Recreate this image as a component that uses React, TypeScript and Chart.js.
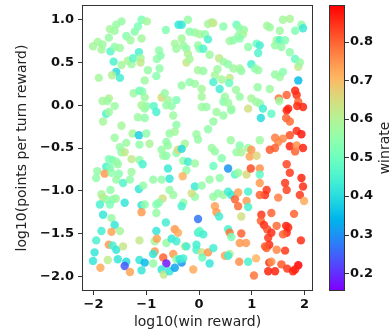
import React, { useEffect, useRef } from "react";
import { Chart, registerables } from "chart.js";

Chart.register(...registerables);

const xValues = [
  -1.47,-1.09,-0.99,-1.57,-1.69,-1.60,-1.16,-1.22,-0.63,-0.39,
  -1.71,-1.38,-1.30,-1.09,-2.01,-1.92,-1.83,-1.85,-1.68,-1.60,
  -1.50,-1.14,-1.62,-1.47,-1.35,-1.28,-1.25,-1.11,-1.11,-0.76,
  -0.73,-0.80,-0.46,-0.43,-1.57,-1.50,-1.65,-1.90,-0.97,-1.03,
  -0.75,-0.81,-1.24,-1.13,-1.08,-1.83,-1.71,-1.74,-1.03,-0.71,
  -0.65,-0.59,-0.52,-0.43,-1.00,-0.86,
  -0.33,-0.21,0.17,0.24,0.27,0.46,0.71,0.76,0.85,1.29,
  1.34,1.59,1.72,1.94,1.97,1.53,1.82,-0.18,-0.08,0.01,
  0.11,0.17,-0.33,-0.30,-0.24,-0.21,-0.02,0.01,0.08,0.58,
  0.65,0.74,0.83,0.77,1.09,1.15,1.12,0.93,1.47,1.53,
  1.63,1.44,1.56,1.72,1.82,1.88,1.91,-0.24,-0.18,0.20,
  0.38,0.46,0.55,0.65,0.77,0.80,-0.02,0.08,0.35,0.30,
  0.27,0.43,0.58,0.57,0.99,1.06,1.12,1.44,1.53,1.59,
  1.88,-0.18,-0.08,-0.33,0.05,0.39,0.70,1.11,1.34,1.82,
  1.66,1.51,1.85,1.88,1.97,1.69,0.05,0.49,0.77,0.99,
  1.15,0.46,0.61,0.93,1.21,0.05,0.14,
  -1.60,-1.76,-1.71,-1.82,-1.47,-1.16,-1.03,-1.03,-1.09,-0.81,
  -0.62,-0.49,-0.43,-0.56,-0.46,-1.60,-1.26,-1.14,-1.00,-1.13,
  -0.94,-1.50,-1.38,-1.47,-1.41,-1.71,-1.64,-1.57,-1.76,-1.69,
  -1.54,-1.28,-1.13,-1.07,-1.93,-1.79,-1.95,-1.66,-1.52,-1.28,
  -1.57,-1.44,-1.31,-0.87,-0.71,-0.59,-0.56,-0.71,-0.62,-0.59,
  -0.68,-0.62,-0.43,-0.40,-1.14,-1.06,-1.68,-1.85,-1.82,-1.76,
  -1.63,-1.58,-1.41,-1.88,-1.69,-1.09,-0.81,-0.69,-0.56,-0.49,
  0.33,0.46,0.61,0.55,1.37,1.17,1.08,1.52,1.66,1.86,
  1.65,1.72,1.85,1.94,1.72,1.59,1.44,1.50,1.44,1.34,
  1.72,1.82,1.85,1.97,0.27,0.17,-0.05,-0.02,-0.27,-0.33,
  0.60,1.15,0.77,0.71,0.80,0.93,0.96,1.09,0.99,0.24,
  0.30,0.43,-0.30,-0.21,-0.08,-0.24,0.27,0.55,0.68,0.74,
  0.90,0.98,1.15,1.15,1.66,1.72,1.94,-0.31,0.20,0.39,
  1.15,1.28,1.25,1.15,1.50,1.63,1.66,1.97,1.91,1.99,
  -0.08,0.05,-0.08,-0.14,0.27,0.36,0.46,0.55,0.61,0.74,
  0.93,0.68,0.90,0.74,0.93,0.30,-0.30,
  -1.82,-1.66,-1.60,-1.85,-1.66,-1.50,
  -1.09,-1.03,-0.81,-0.76,-0.63,-0.46,-0.40,-0.81,
  -1.95,-1.71,-1.64,-1.57,-1.44,-1.13,-0.84,-0.80,-0.62,-0.52,
  -0.43,-1.98,-0.84,-0.87,-0.68,-0.49,-0.43,-2.01,-1.73,-1.54,
  -1.38,-1.13,-1.03,-0.62,-1.41,-1.87,-1.31,-1.09,-0.87,-0.71,
  -0.67,-0.56,-0.46,-0.33,-0.37,-0.30,-0.27,-0.24,-0.02,-0.02,
  0.01,0.08,-0.05,-0.05,0.05,0.06,0.17,0.27,0.20,-0.11,
  0.33,0.38,-0.33,
  0.80,0.55,0.58,0.61,0.80,0.77,0.89,0.49,0.58,0.55,
  0.76,0.93,1.08,1.18,1.17,1.23,1.37,1.29,1.37,1.31,
  1.28,1.33,1.25,1.47,1.65,1.69,1.66,1.59,1.80,1.47,
  1.63,1.93,1.33,1.37,1.31,1.44,1.56,1.67,1.78,1.88,
  1.82,1.04,
];

const yValues = [
  0.98,1.00,0.98,0.94,0.89,0.87,0.92,0.86,0.88,0.94,
  0.79,0.81,0.76,0.78,0.69,0.74,0.71,0.65,0.63,0.68,
  0.67,0.62,0.51,0.47,0.52,0.48,0.55,0.55,0.50,0.64,
  0.58,0.54,0.72,0.66,0.39,0.32,0.35,0.32,0.41,0.29,
  0.43,0.34,0.14,0.17,0.16,0.05,0.08,0.05,0.09,0.09,
  0.14,0.06,-0.01,0.06,-0.01,-0.01,
  0.94,1.00,0.95,0.97,0.96,0.92,0.94,0.90,0.88,0.93,
  0.91,1.00,1.01,0.94,0.90,0.87,0.87,0.86,0.85,0.83,
  0.83,0.77,0.78,0.70,0.66,0.60,0.70,0.66,0.66,0.75,
  0.76,0.81,0.83,0.78,0.72,0.70,0.61,0.68,0.76,0.76,
  0.76,0.70,0.68,0.62,0.54,0.45,0.50,0.50,0.54,0.59,
  0.55,0.51,0.48,0.43,0.43,0.40,0.41,0.40,0.42,0.35,
  0.27,0.30,0.32,0.26,0.48,0.43,0.41,0.36,0.33,0.39,
  0.29,0.27,0.25,0.23,0.19,0.19,0.18,0.21,0.19,0.17,
  0.12,0.08,0.12,0.04,-0.02,-0.04,0.10,0.10,0.10,0.08,
  0.02,0.04,-0.04,-0.04,-0.04,-0.02,-0.02,
  -0.01,-0.10,-0.08,-0.19,-0.24,-0.14,-0.15,-0.04,0.00,-0.08,
  0.00,-0.12,-0.23,-0.33,-0.31,-0.38,-0.33,-0.35,-0.33,-0.46,
  -0.45,-0.49,-0.44,-0.55,-0.55,-0.63,-0.64,-0.66,-0.72,-0.73,
  -0.69,-0.63,-0.64,-0.69,-0.77,-0.80,-0.85,-0.79,-0.80,-0.78,
  -0.87,-0.91,-0.87,-0.87,-0.87,-0.74,-0.86,-0.52,-0.43,-0.47,
  -0.59,-0.59,-0.56,-0.52,-0.98,-0.94,-0.99,-1.04,-1.08,-1.10,
  -1.10,-1.09,-1.14,-1.16,-1.16,-1.17,-1.16,-1.09,-0.99,-1.05,
  -0.08,-0.12,-0.06,0.03,-0.10,-0.15,0.04,0.05,-0.06,-0.01,
  -0.15,-0.19,-0.30,-0.34,-0.35,-0.39,-0.38,-0.43,-0.50,-0.52,
  -0.48,-0.54,-0.47,-0.50,-0.19,-0.28,-0.34,-0.40,-0.45,-0.51,
  -0.41,-0.41,-0.47,-0.55,-0.55,-0.50,-0.60,-0.59,-0.52,-0.50,
  -0.54,-0.62,-0.65,-0.66,-0.68,-0.76,-0.71,-0.74,-0.81,-0.79,
  -0.81,-0.74,-0.74,-0.81,-0.69,-0.79,-0.85,-0.83,-0.87,-0.85,
  -0.91,-0.99,-1.05,-1.05,-1.08,-0.91,-0.99,-0.95,-1.05,-1.12,
  -0.95,-0.94,-1.07,-1.03,-1.07,-1.03,-1.05,-1.01,-1.05,-1.02,
  -1.01,-1.10,-1.12,-1.18,-1.19,-1.18,-1.14,
  -1.28,-1.32,-1.40,-1.47,-1.48,-1.47,
  -1.25,-1.16,-1.26,-1.14,-1.37,-1.45,-1.49,-1.47,
  -1.58,-1.63,-1.64,-1.69,-1.65,-1.58,-1.59,-1.56,-1.61,-1.56,
  -1.59,-1.72,-1.71,-1.74,-1.78,-1.74,-1.80,-1.82,-1.81,-1.80,
  -1.83,-1.81,-1.84,-1.85,-1.88,-1.90,-1.95,-1.93,-1.85,-1.92,
  -1.98,-1.94,-1.90,-1.84,-1.80,-1.79,-1.65,-1.65,-1.33,-1.49,
  -1.47,-1.51,-1.63,-1.69,-1.72,-1.78,-1.72,-1.67,-1.85,-1.92,
  -1.25,-1.30,-1.18,
  -1.30,-1.45,-1.49,-1.54,-1.50,-1.61,-1.61,-1.76,-1.74,-1.76,
  -1.83,-1.83,-1.79,-1.28,-1.35,-1.40,-1.26,-1.45,-1.49,-1.55,
  -1.67,-1.63,-1.65,-1.41,-1.41,-1.43,-1.49,-1.51,-1.27,-1.69,
  -1.70,-1.58,-1.84,-1.83,-1.94,-1.94,-1.86,-1.91,-1.94,-1.87,
  -1.92,-1.99,
];

const winrates = [
  0.56,0.52,0.58,0.56,0.58,0.57,0.52,0.54,0.53,0.42,
  0.56,0.54,0.57,0.58,0.58,0.58,0.57,0.58,0.47,0.55,
  0.57,0.45,0.45,0.58,0.59,0.57,0.47,0.58,0.62,0.55,
  0.54,0.55,0.58,0.57,0.40,0.44,0.60,0.58,0.56,0.57,
  0.55,0.54,0.57,0.50,0.53,0.58,0.60,0.57,0.57,0.65,
  0.56,0.58,0.55,0.52,0.54,0.47,
  0.42,0.56,0.58,0.60,0.62,0.54,0.50,0.55,0.56,0.58,
  0.57,0.58,0.59,0.55,0.43,0.57,0.53,0.54,0.56,0.58,
  0.55,0.45,0.58,0.57,0.55,0.60,0.56,0.53,0.46,0.57,
  0.55,0.56,0.58,0.54,0.50,0.44,0.46,0.55,0.57,0.46,
  0.53,0.56,0.55,0.55,0.49,0.62,0.56,0.63,0.58,0.57,
  0.62,0.57,0.55,0.57,0.58,0.56,0.58,0.56,0.57,0.58,
  0.45,0.58,0.62,0.49,0.45,0.54,0.56,0.56,0.57,0.54,
  0.35,0.55,0.57,0.56,0.58,0.44,0.57,0.56,0.57,0.86,
  0.80,0.78,0.85,0.80,0.86,0.86,0.58,0.57,0.56,0.58,
  0.55,0.54,0.58,0.64,0.44,0.57,0.56,
  0.57,0.45,0.57,0.58,0.58,0.57,0.55,0.56,0.58,0.45,
  0.56,0.57,0.55,0.56,0.58,0.57,0.58,0.38,0.55,0.55,
  0.59,0.56,0.57,0.55,0.62,0.53,0.52,0.55,0.45,0.52,
  0.56,0.62,0.55,0.45,0.55,0.74,0.55,0.55,0.54,0.57,
  0.56,0.46,0.55,0.56,0.55,0.43,0.42,0.56,0.55,0.56,
  0.57,0.55,0.55,0.65,0.42,0.55,0.55,0.58,0.62,0.56,
  0.55,0.56,0.42,0.45,0.52,0.42,0.53,0.64,0.56,0.57,
  0.57,0.56,0.55,0.57,0.48,0.40,0.57,0.57,0.86,0.85,
  0.80,0.79,0.85,0.87,0.82,0.76,0.77,0.76,0.80,0.81,
  0.86,0.80,0.75,0.86,0.56,0.55,0.57,0.56,0.58,0.40,
  0.57,0.57,0.54,0.56,0.59,0.57,0.73,0.66,0.74,0.57,
  0.56,0.54,0.55,0.44,0.57,0.55,0.50,0.30,0.47,0.56,
  0.65,0.82,0.75,0.48,0.83,0.84,0.86,0.71,0.56,0.55,
  0.74,0.84,0.85,0.80,0.77,0.84,0.83,0.85,0.84,0.72,
  0.43,0.55,0.55,0.64,0.56,0.55,0.57,0.44,0.42,0.73,
  0.45,0.80,0.74,0.79,0.45,0.73,0.55,
  0.42,0.56,0.42,0.44,0.73,0.58,
  0.74,0.55,0.56,0.54,0.44,0.74,0.72,0.42,
  0.45,0.74,0.45,0.42,0.63,0.62,0.58,0.73,0.56,0.42,
  0.44,0.42,0.74,0.42,0.80,0.74,0.55,0.42,0.61,0.42,
  0.40,0.42,0.35,0.18,0.24,0.72,0.73,0.42,0.56,0.42,
  0.62,0.42,0.32,0.30,0.42,0.44,0.62,0.44,0.27,0.44,
  0.48,0.44,0.44,0.45,0.64,0.50,0.74,0.44,0.42,0.72,
  0.74,0.44,0.45,
  0.64,0.45,0.78,0.52,0.80,0.74,0.74,0.73,0.60,0.44,
  0.75,0.45,0.71,0.84,0.80,0.85,0.80,0.82,0.85,0.84,
  0.80,0.85,0.81,0.79,0.86,0.85,0.86,0.80,0.80,0.76,
  0.84,0.85,0.85,0.75,0.86,0.86,0.81,0.84,0.86,0.89,
  0.86,0.78,
];

const xTicks = [-2, -1, 0, 1, 2];
const yTicks = [-2, -1.5, -1, -0.5, 0, 0.5, 1];
const cbTicks = [0.2, 0.3, 0.4, 0.5, 0.6, 0.7, 0.8];
const cbMin = 0.157;
const cbMax = 0.892;
const xLabel = "log10(win reward)";
const yLabel = "log10(points per turn reward)";
const cbLabel = "winrate";

const FONT = "'DejaVu Sans', sans-serif";

function rainbow(v: number, alpha = 1): string {
  const t = Math.min(1, Math.max(0, (v - cbMin) / (cbMax - cbMin)));
  const r = Math.min(1, Math.abs(2 * t - 0.5));
  const g = Math.sin(Math.PI * t);
  const b = Math.cos((Math.PI * t) / 2);
  return `rgba(${Math.round(r * 255)},${Math.round(g * 255)},${Math.round(b * 255)},${alpha})`;
}

function fmt(v: number, dec: number): string {
  const s = Math.abs(v).toFixed(dec);
  return v < -1e-9 ? "\u2212" + s : s;
}

const decorPlugin = {
  id: "decor",
  afterDraw(chart: any) {
    const { ctx, chartArea: ca } = chart;
    const cb = chart.scales.cb;
    ctx.save();
    // frame
    ctx.strokeStyle = "#333";
    ctx.lineWidth = 1;
    const l = Math.round(ca.left) - 0.5;
    const t = Math.round(ca.top) - 0.5;
    const r = Math.round(ca.right) + 0.5;
    const b = Math.round(ca.bottom) + 0.5;
    ctx.strokeRect(l, t, r - l, b - t);

    // colorbar
    const x0 = Math.round(ca.right) + 18;
    const w = 14;
    const top = Math.round(ca.top);
    const bottom = Math.round(ca.bottom);
    for (let py = top; py < bottom; py++) {
      const v = cb.getValueForPixel(py + 0.5);
      ctx.fillStyle = rainbow(v);
      ctx.fillRect(x0, py, w, 1);
    }
    ctx.strokeStyle = "#333";
    ctx.strokeRect(x0 - 0.5, top - 0.5, w + 1, bottom - top + 1);
    ctx.beginPath();
    for (const v of cbTicks) {
      const y = Math.round(cb.getPixelForValue(v)) + 0.5;
      ctx.moveTo(x0 + w, y);
      ctx.lineTo(x0 + w + 5, y);
    }
    ctx.stroke();

    // colorbar label
    ctx.translate(389, (ca.top + ca.bottom) / 2);
    ctx.rotate(-Math.PI / 2);
    ctx.fillStyle = "#222";
    ctx.font = `14px ${FONT}`;
    ctx.textAlign = "center";
    ctx.textBaseline = "alphabetic";
    ctx.fillText(cbLabel, 0, 0);
    ctx.restore();
  },
};

const noVPad = (s: any) => {
  s.paddingTop = 0;
  s.paddingBottom = 0;
};

export default function App() {
  const canvasRef = useRef<HTMLCanvasElement | null>(null);

  useEffect(() => {
    const canvas = canvasRef.current;
    if (!canvas) return;
    const n = Math.min(xValues.length, yValues.length, winrates.length);
    const points = [] as { x: number; y: number }[];
    const colors = [] as string[];
    for (let i = 0; i < n; i++) {
      points.push({ x: xValues[i], y: yValues[i] });
      colors.push(rainbow(winrates[i], 0.85));
    }

    const chart = new Chart(canvas, {
      type: "scatter",
      data: {
        datasets: [
          {
            data: points,
            backgroundColor: colors,
            borderWidth: 0,
            pointRadius: 4.2,
            pointHoverRadius: 4.2,
          },
        ],
      },
      plugins: [decorPlugin],
      options: {
        animation: false,
        responsive: false,
        maintainAspectRatio: false,
        devicePixelRatio: 1,
        events: [],
        layout: { padding: { top: 6, right: 0, bottom: 0, left: 0 } },
        plugins: {
          legend: { display: false },
          tooltip: { enabled: false },
        },
        scales: {
          x: {
            type: "linear",
            position: "bottom",
            min: -2.2,
            max: 2.14,
            afterBuildTicks: (s: any) => {
              s.ticks = xTicks.map((value) => ({ value }));
            },
            afterFit: (s: any) => {
              s.height = 45;
              s.paddingLeft = 0;
              s.paddingRight = 0;
            },
            grid: {
              display: true,
              drawOnChartArea: false,
              drawTicks: true,
              tickLength: 5,
              color: "#333",
            },
            border: { display: false },
            ticks: {
              autoSkip: false,
              maxRotation: 0,
              padding: 2,
              color: "#111",
              font: { family: FONT, size: 13, weight: "bold" },
              callback: (v: any) => fmt(Number(v), 0),
            },
            title: {
              display: true,
              text: xLabel,
              color: "#222",
              font: { family: FONT, size: 14 },
              padding: { top: 0, bottom: 4 },
            },
          },
          y: {
            type: "linear",
            position: "left",
            min: -2.16,
            max: 1.16,
            afterBuildTicks: (s: any) => {
              s.ticks = yTicks.map((value) => ({ value }));
            },
            afterFit: (s: any) => {
              s.width = 83;
              noVPad(s);
            },
            grid: {
              display: true,
              drawOnChartArea: false,
              drawTicks: true,
              tickLength: 5,
              color: "#333",
            },
            border: { display: false },
            ticks: {
              autoSkip: false,
              padding: 4,
              color: "#111",
              font: { family: FONT, size: 13, weight: "bold" },
              callback: (v: any) => fmt(Number(v), 1),
            },
            title: {
              display: true,
              text: yLabel,
              color: "#222",
              font: { family: FONT, size: 14 },
              padding: { top: 14, bottom: 0 },
            },
          },
          cb: {
            type: "linear",
            position: "right",
            display: true,
            min: cbMin,
            max: cbMax,
            afterBuildTicks: (s: any) => {
              s.ticks = cbTicks.map((value) => ({ value }));
            },
            afterFit: (s: any) => {
              s.width = 78;
              noVPad(s);
            },
            grid: { display: false, drawTicks: false, drawOnChartArea: false },
            border: { display: false },
            ticks: {
              autoSkip: false,
              padding: 38,
              color: "#111",
              font: { family: FONT, size: 13, weight: "bold" },
              callback: (v: any) => fmt(Number(v), 1),
            },
          },
        },
      },
    } as any);

    return () => {
      chart.destroy();
    };
  }, []);

  return (
    <div style={{ position: "fixed", left: 0, top: 0, width: 390, height: 335, background: "#fff" }}>
      <canvas ref={canvasRef} width={390} height={335} style={{ display: "block" }} />
    </div>
  );
}
